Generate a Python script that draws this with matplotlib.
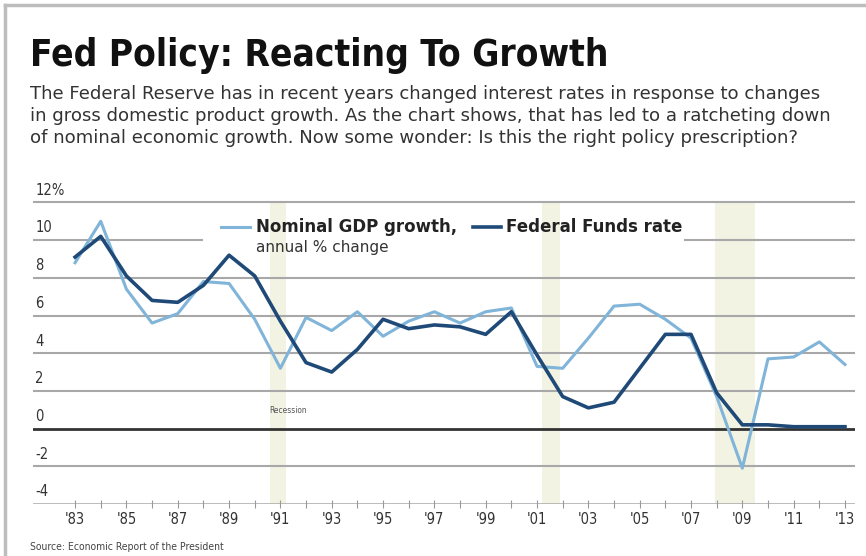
import matplotlib
matplotlib.use('Agg')
import numpy as np
import matplotlib.pyplot as plt
from matplotlib.lines import Line2D
from matplotlib.patches import Rectangle

years = list(range(1983, 2014))
gdp = [8.8, 11.0, 7.4, 5.6, 6.1, 7.8, 7.7, 5.8, 3.2, 5.9, 5.2, 6.2, 4.9, 5.7,
       6.2, 5.6, 6.2, 6.4, 3.3, 3.2, 4.8, 6.5, 6.6, 5.8, 4.8, 1.7, -2.1, 3.7,
       3.8, 4.6, 3.4]
fed = [9.1, 10.2, 8.1, 6.8, 6.7, 7.6, 9.2, 8.1, 5.7, 3.5, 3.0, 4.2, 5.8, 5.3,
       5.5, 5.4, 5.0, 6.2, 3.9, 1.7, 1.1, 1.4, 3.2, 5.0, 5.0, 1.9, 0.2, 0.2,
       0.1, 0.1, 0.1]
recessions = [(1990.6, 1991.2), (2001.2, 2001.9), (2007.95, 2009.5)]
ytick_vals = [12, 10, 8, 6, 4, 2, 0, -2, -4]
ytick_labels = ['12%', '10', '8', '6', '4', '2', '0', '-2', '-4']
xtick_years = list(range(1983, 2014, 2))

light = '#80b4d8'
dark = '#1f4a78'
grid = '#a8a8a8'
fam = ['DejaVu Sans']

fig = plt.figure(figsize=(8.66, 5.56), dpi=100)
fig.patch.set_facecolor('white')

# card border
fig.add_artist(Line2D([5/866, 5/866], [0, 1 - 5/556], color='#bdbdbd', lw=2.5))
fig.add_artist(Line2D([5/866, 1], [1 - 5/556, 1 - 5/556], color='#bdbdbd', lw=2.5))

fig.text(30/866, 1 - 55/556, 'Fed Policy: Reacting To Growth', fontsize=26.6,
         fontweight='bold', family=fam, fontstretch='condensed',
         va='center', ha='left', color='#111111')
sub = ("The Federal Reserve has in recent years changed interest rates in response to changes\n"
       "in gross domestic product growth. As the chart shows, that has led to a ratcheting down\n"
       "of nominal economic growth. Now some wonder: Is this the right policy prescription?")
fig.text(30/866, 1 - 85/556, sub, fontsize=13.1, family=fam,
         va='top', ha='left', color='#333333', linespacing=1.29)
fig.text(30/866, 1 - 547/556, 'Source: Economic Report of the President', fontsize=7.5,
         family=fam, fontstretch='condensed', va='center', ha='left', color='#444444')

# axes: 1981.36 .. 2013.39 across px 33..855 ; -4 .. 12.5
ax = fig.add_axes([33/866, 1 - 504/556, 822/866, 311/556])
ax.set_xlim(1981.36, 2013.39)
ax.set_ylim(-4, 12.5)
for s in ax.spines.values():
    s.set_visible(False)
ax.set_yticks([])
ax.set_xticks(years, minor=True)
ax.set_xticks(xtick_years)
ax.set_xticklabels(["'" + str(y)[2:] for y in xtick_years], family=fam,
                   fontstretch='condensed', fontsize=10.5, color='#333333')
ax.tick_params(axis='x', which='both', direction='inout', length=6, width=0.8,
               color='#999999', pad=3)

for a, b in recessions:
    ax.add_patch(Rectangle((a, -4), b - a, 16, color='#f3f3e4', zorder=0, lw=0))

for v in ytick_vals:
    if v == 10:
        ax.plot([1981.36, 1987.94], [v, v], color=grid, lw=1.5, zorder=1)
        ax.plot([2006.76, 2013.39], [v, v], color=grid, lw=1.5, zorder=1)
    elif v == 0:
        ax.axhline(v, color='#333333', lw=2.0, zorder=1)
    elif v == -4:
        ax.axhline(v, color=grid, lw=1.8, zorder=1)
    else:
        ax.axhline(v, color=grid, lw=1.5, zorder=1)

for v, lab in zip(ytick_vals, ytick_labels):
    ax.text(1981.45, v + 0.25, lab, family=fam, fontstretch='condensed',
            fontsize=10.5, color='#333333', ha='left', va='bottom')

ax.plot(years, gdp, color=light, lw=2.2, zorder=3)
ax.plot(years, fed, color=dark, lw=2.6, zorder=4)

ax.text(1991.3, 0.95, 'Recession', family=fam, fontstretch='condensed', fontsize=6,
        color='#555555', ha='center', va='center')

# legend
ax.plot([1988.7, 1989.8], [10.7, 10.7], color=light, lw=2.2)
ax.text(1990.05, 10.7, 'Nominal GDP growth,', family=fam, fontsize=12,
        fontweight='bold', color='#222222', ha='left', va='center')
ax.text(1990.05, 9.6, 'annual % change', family=fam, fontsize=11,
        color='#333333', ha='left', va='center')
ax.plot([1998.5, 1999.6], [10.7, 10.7], color=dark, lw=2.6)
ax.text(1999.8, 10.7, 'Federal Funds rate', family=fam, fontsize=12,
        fontweight='bold', color='#222222', ha='left', va='center')

fig.savefig('out.png', dpi=100, facecolor='white')
